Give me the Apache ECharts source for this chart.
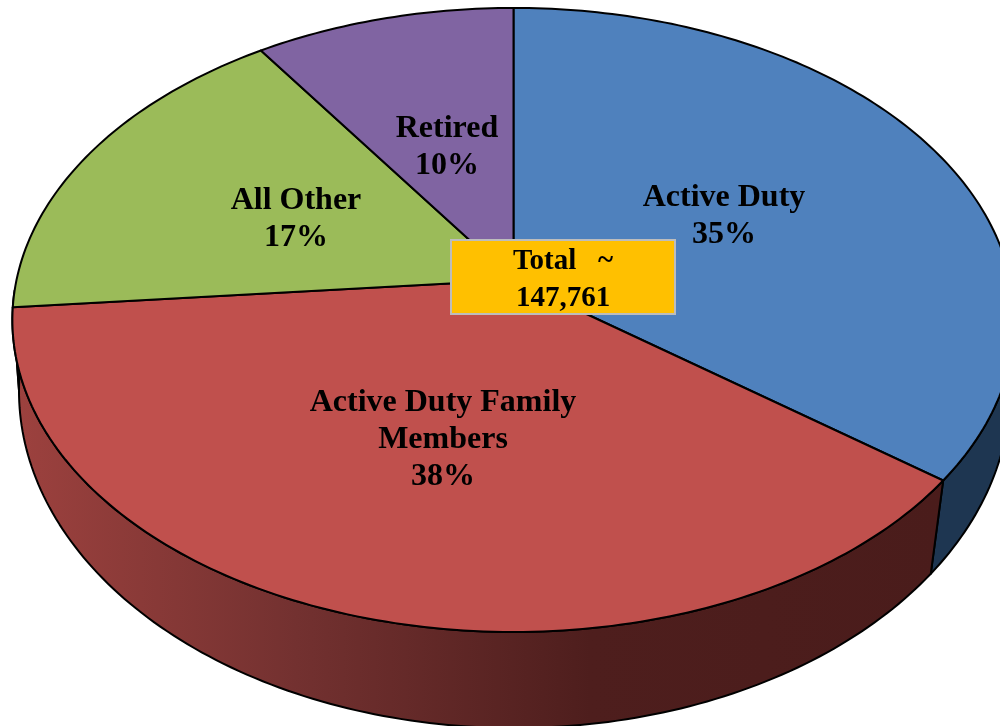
<!DOCTYPE html>
<html>
<head>
<meta charset="utf-8">
<style>
  html, body { margin: 0; padding: 0; background: #fff; }
  #box { width: 1000px; height: 726px; }
</style>
<script src="https://cdn.jsdelivr.net/npm/echarts@6/dist/echarts.min.js"></script>
</head>
<body>
<div id="box"></div>
<script>
// data (shares in %)
var categories = ["Active Duty", "Active Duty Family\nMembers", "All Other", "Retired"];
var shares = [35.3, 38.3, 16.9, 9.5];
var faceColors = ["#4f81bd", "#c0504d", "#9bbb59", "#8064a2"];
var totalLabel = "Total   ~\n147,761";

// where each label sits, same order as categories
var labelSpots = [[724, 216], [443, 440], [296, 219], [447, 147]];

// projection of the tilted disc: apex of the slices, half axes, perspective
var top_ = { x: 513.5, y: 280, a: 497, b: 306.9, k: 0.128 };
var low_ = { x: 514.5, y: 360.6, a: 493.5, b: 334.3, k: 0.09 };
// only this arc of the wall is visible (deg, clockwise from 12 o'clock)
var wallFrom = 90, wallTo = 268;

function project(p, deg) {
  let t = deg * Math.PI / 180,
    u = Math.sin(t),
    v = -Math.cos(t),
    w = 1 - p.k * v;
  return [p.x + p.a * u / w, p.y + p.b * v / w];
}

function arc(p, from, to) {
  let pts = [],
    n = Math.max(2, Math.ceil(Math.abs(to - from)));
  for (let i = 0; i <= n; i++) {
    pts.push(project(p, from + (to - from) * i / n));
  }
  return pts;
}

// cumulative angles for each slice
var sum = shares.reduce((a, b) => a + b, 0),
  acc = 0;
var slices = shares.map((s, i) => {
  let from = acc / sum * 360;
  acc += s;
  return [from, acc / sum * 360, i];
});

var redWall = new echarts.graphic.LinearGradient(20, 0, 940, 0, [
  { offset: 0, color: "#9c413e" },
  { offset: 0.3, color: "#733130" },
  { offset: 0.62, color: "#4e1e1d" },
  { offset: 1, color: "#4a1c1b" }
], true);
var wallColors = ["#1e3651", redWall, "#5d6f35", "#4c3c61"];

function renderWall(params, api) {
  let from = Math.max(api.value(0), wallFrom),
    to = Math.min(api.value(1), wallTo);
  if (to <= from) return null;
  let points = arc(top_, from, to).concat(arc(low_, to, from));
  return {
    type: "polygon",
    shape: { points: points },
    style: { fill: wallColors[api.value(2)], stroke: "#000", lineWidth: 2, lineJoin: "round" }
  };
}

function renderFace(params, api) {
  let i = api.value(2),
    points = [[top_.x, top_.y]].concat(arc(top_, api.value(0), api.value(1)));
  return {
    type: "polygon",
    shape: { points: points },
    style: { fill: faceColors[i], stroke: "#000", lineWidth: 2, lineJoin: "round" }
  };
}

function renderLabel(params, api) {
  let i = api.value(2);
  return {
    type: "text",
    x: labelSpots[i][0],
    y: labelSpots[i][1],
    style: {
      text: categories[i] + "\n" + Math.round(shares[i]) + "%",
      fill: "#000",
      font: "bold 32px 'Liberation Serif'",
      lineHeight: 37,
      align: "center",
      verticalAlign: "middle"
    }
  };
}

var chart = echarts.init(document.getElementById("box"), null, { renderer: "canvas" });
chart.setOption({
  animation: false,
  backgroundColor: "#fff",
  series: [
    { type: "custom", coordinateSystem: "none", silent: true, z: 1, data: slices, renderItem: renderWall },
    { type: "custom", coordinateSystem: "none", silent: true, z: 2, data: slices, renderItem: renderFace },
    { type: "custom", coordinateSystem: "none", silent: true, z: 3, data: slices, renderItem: renderLabel }
  ],
  graphic: [
    {
      type: "rect",
      z: 10,
      shape: { x: 451, y: 240, width: 224, height: 74 },
      style: { fill: "#ffc000", stroke: "#bdbdbd", lineWidth: 2 }
    },
    {
      type: "text",
      z: 11,
      x: 563,
      y: 280,
      style: {
        text: totalLabel,
        fill: "#000",
        font: "bold 29px 'Liberation Serif'",
        lineHeight: 37,
        align: "center",
        verticalAlign: "middle"
      }
    }
  ]
});
</script>
</body>
</html>
